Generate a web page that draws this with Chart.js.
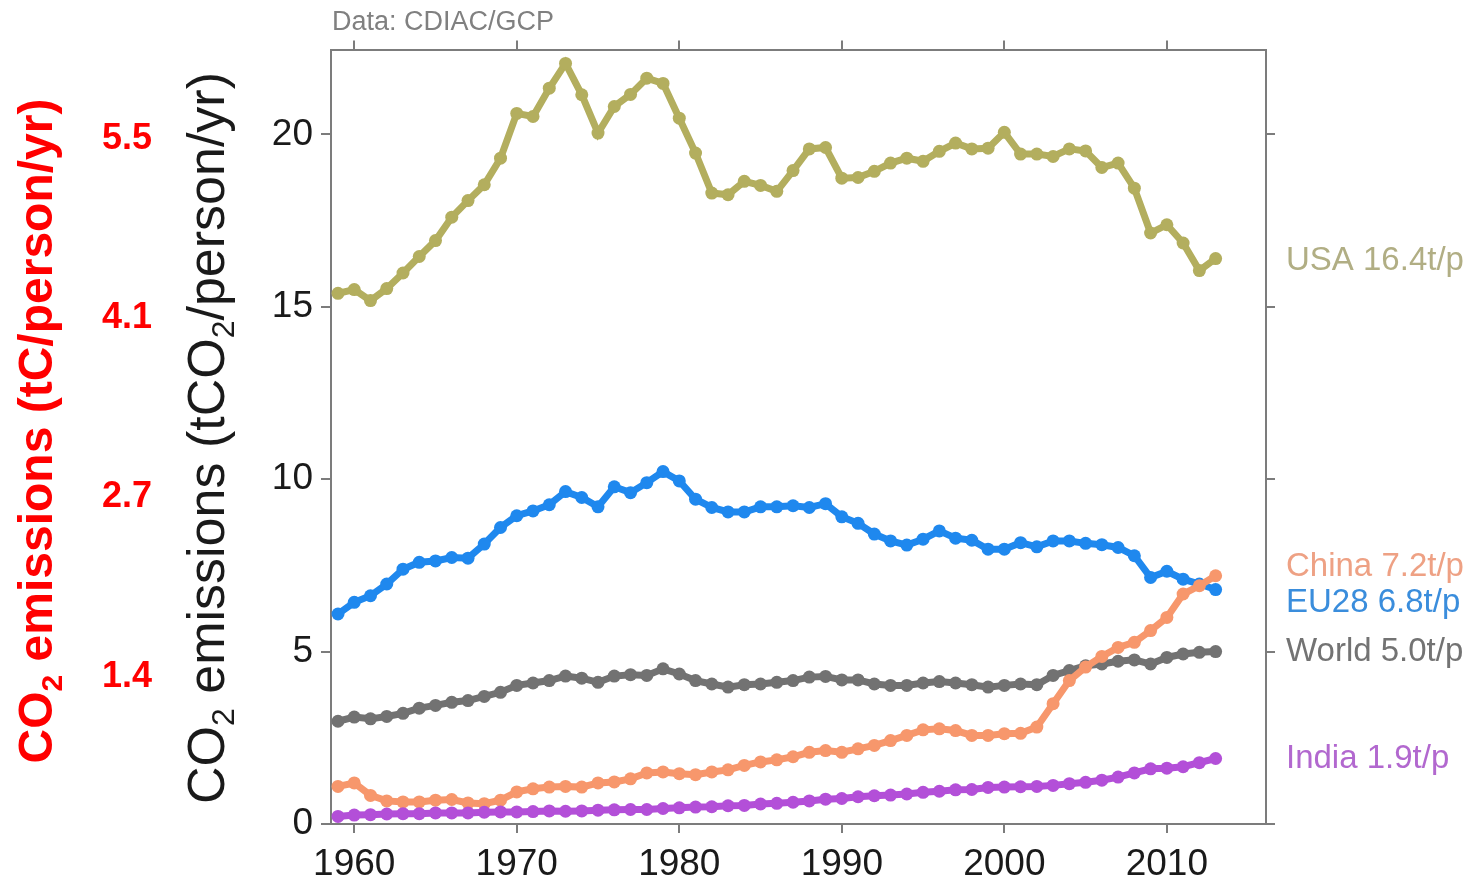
<!DOCTYPE html>
<html>
<head>
<meta charset="utf-8">
<script src="https://cdn.jsdelivr.net/npm/chart.js@4.4.1/dist/chart.umd.min.js"></script>
<style>
  html, body { margin: 0; padding: 0; background: #ffffff; }
  #wrap { width: 1474px; height: 885px; }
</style>
</head>
<body>
<div id="wrap"><canvas id="c" width="1474" height="885"></canvas></div>
<script>
// Per-capita fossil CO2 emissions, tCO2 per person per year
const years = [1959, 1960, 1961, 1962, 1963, 1964, 1965, 1966, 1967, 1968, 1969,
  1970, 1971, 1972, 1973, 1974, 1975, 1976, 1977, 1978, 1979,
  1980, 1981, 1982, 1983, 1984, 1985, 1986, 1987, 1988, 1989,
  1990, 1991, 1992, 1993, 1994, 1995, 1996, 1997, 1998, 1999,
  2000, 2001, 2002, 2003, 2004, 2005, 2006, 2007, 2008, 2009,
  2010, 2011, 2012, 2013];

const usa = [15.39, 15.50, 15.18, 15.53, 15.98, 16.46, 16.92, 17.60, 18.08, 18.54, 19.31,
  20.61, 20.52, 21.34, 22.06, 21.15, 20.04, 20.81, 21.16, 21.63, 21.48,
  20.47, 19.46, 18.30, 18.25, 18.64, 18.52, 18.35, 18.95, 19.58, 19.62,
  18.73, 18.75, 18.93, 19.17, 19.31, 19.22, 19.51, 19.75, 19.58, 19.60,
  20.06, 19.43, 19.43, 19.36, 19.58, 19.52, 19.04, 19.17, 18.44, 17.14,
  17.38, 16.85, 16.05, 16.4];

const eu28 = [6.09, 6.43, 6.62, 6.96, 7.39, 7.59, 7.63, 7.73, 7.71, 8.12, 8.60,
  8.94, 9.08, 9.26, 9.64, 9.47, 9.20, 9.78, 9.61, 9.90, 10.22,
  9.95, 9.42, 9.18, 9.05, 9.05, 9.20, 9.20, 9.23, 9.18, 9.29,
  8.91, 8.72, 8.41, 8.21, 8.09, 8.26, 8.50, 8.29, 8.23, 7.97,
  7.97, 8.16, 8.04, 8.21, 8.21, 8.14, 8.10, 8.02, 7.78, 7.15,
  7.33, 7.10, 6.96, 6.8];

const world = [2.98, 3.10, 3.05, 3.12, 3.21, 3.36, 3.44, 3.53, 3.58, 3.70, 3.82,
  4.02, 4.09, 4.16, 4.29, 4.23, 4.11, 4.29, 4.33, 4.31, 4.50,
  4.35, 4.16, 4.06, 3.97, 4.04, 4.06, 4.11, 4.16, 4.26, 4.28,
  4.18, 4.18, 4.06, 4.02, 4.02, 4.09, 4.13, 4.09, 4.04, 3.97,
  4.02, 4.06, 4.04, 4.31, 4.45, 4.59, 4.64, 4.72, 4.76, 4.64,
  4.83, 4.93, 4.98, 5.0];

const china = [1.09, 1.19, 0.83, 0.67, 0.64, 0.64, 0.69, 0.71, 0.61, 0.59, 0.69,
  0.93, 1.02, 1.07, 1.09, 1.07, 1.19, 1.22, 1.31, 1.48, 1.51,
  1.46, 1.43, 1.51, 1.57, 1.70, 1.80, 1.86, 1.95, 2.08, 2.13,
  2.08, 2.18, 2.28, 2.42, 2.57, 2.73, 2.76, 2.71, 2.57, 2.57,
  2.62, 2.63, 2.81, 3.49, 4.16, 4.55, 4.86, 5.12, 5.27, 5.61,
  5.99, 6.67, 6.91, 7.2];

const india = [0.22, 0.26, 0.27, 0.29, 0.30, 0.30, 0.32, 0.32, 0.32, 0.34, 0.35,
  0.35, 0.36, 0.38, 0.37, 0.38, 0.40, 0.41, 0.42, 0.42, 0.45,
  0.47, 0.49, 0.50, 0.53, 0.54, 0.58, 0.60, 0.63, 0.67, 0.72,
  0.74, 0.79, 0.82, 0.84, 0.87, 0.92, 0.95, 0.99, 1.00, 1.06,
  1.07, 1.08, 1.09, 1.12, 1.17, 1.21, 1.27, 1.36, 1.48, 1.60,
  1.62, 1.66, 1.78, 1.90];

const seriesNames = ['USA', 'EU28', 'World', 'China', 'India'];
const seriesValues = [usa, eu28, world, china, india];
const lineColors = ['#b3ae5e', '#1f88ee', '#727272', '#f7976c', '#b34fd8'];
const labelColors = ['#b1ae84', '#3a8ddc', '#737373', '#eea184', '#b268cf'];
const labelNudge = [2, 13, 0, -9, 0];

const xTickValues = [1960, 1970, 1980, 1990, 2000, 2010];
const yTickValues = [0, 5, 10, 15, 20];
const CO2_PER_C = 3.664;
const tcTickValues = [20, 15, 10, 5].map(v => v / CO2_PER_C);

const X_MIN = 1958.57, X_MAX = 2016.1;
const Y_MIN = 0, Y_MAX = 22.46;
const TC_MIN = 0.244, TC_MAX = 6.136;

const FONT = "'Liberation Sans', Arial, Helvetica, sans-serif";
const AXIS = '#7c7c7c';

// Rotated title with a subscript, centred on (cx, cy)
function drawRotated(ctx, parts, cx, cy, size, weight, color) {
  ctx.save();
  ctx.translate(cx, cy);
  ctx.rotate(-Math.PI / 2);
  const main = `${weight} ${size}px ${FONT}`;
  const sub = `${weight} ${Math.round(size * 0.62)}px ${FONT}`;
  let total = 0;
  parts.forEach(p => { ctx.font = p.sub ? sub : main; p.w = ctx.measureText(p.t).width; total += p.w; });
  let x = -total / 2;
  const base = size * 0.36;
  ctx.fillStyle = color;
  ctx.textAlign = 'left';
  ctx.textBaseline = 'alphabetic';
  parts.forEach(p => {
    ctx.font = p.sub ? sub : main;
    ctx.fillText(p.t, x, p.sub ? base + size * 0.2 : base);
    x += p.w;
  });
  ctx.restore();
}

const annotations = {
  id: 'annotations',
  afterDraw(chart) {
    const ctx = chart.ctx;
    const yScale = chart.scales.y;
    // end-of-line labels
    ctx.save();
    ctx.font = `33px ${FONT}`;
    ctx.textAlign = 'left';
    ctx.textBaseline = 'middle';
    seriesNames.forEach((name, i) => {
      const vals = seriesValues[i];
      const last = vals[vals.length - 1];
      ctx.fillStyle = labelColors[i];
      ctx.fillText(`${name} ${last.toFixed(1)}t/p`, chart.chartArea.right + 20,
        yScale.getPixelForValue(last) + labelNudge[i]);
    });
    // source note
    ctx.font = `27px ${FONT}`;
    ctx.fillStyle = '#808080';
    ctx.textBaseline = 'alphabetic';
    ctx.fillText('Data: CDIAC/GCP', chart.chartArea.left + 1, 30);
    ctx.restore();
    // axis titles
    drawRotated(ctx, [{ t: 'CO' }, { t: '2', sub: true }, { t: ' emissions (tCO' }, { t: '2', sub: true }, { t: '/person/yr)' }],
      205, 438, 52, 'normal', '#1a1a1a');
    drawRotated(ctx, [{ t: 'CO' }, { t: '2', sub: true }, { t: ' emissions (tC/person/yr)' }],
      35, 431, 48, 'bold', '#ff0000');
  }
};

const frameGrid = { drawOnChartArea: false, drawTicks: true, tickLength: 9, color: AXIS, lineWidth: 2 };
const frameBorder = { display: true, color: AXIS, width: 2 };

new Chart(document.getElementById('c'), {
  type: 'line',
  data: {
    datasets: seriesNames.map((name, i) => ({
      label: name,
      data: years.map((yr, k) => ({ x: yr, y: seriesValues[i][k] })),
      xAxisID: 'x',
      yAxisID: 'y',
      borderColor: lineColors[i],
      backgroundColor: lineColors[i],
      pointBackgroundColor: lineColors[i],
      pointBorderWidth: 0,
      pointRadius: 6.5,
      borderWidth: 7,
      tension: 0
    })).reverse()
  },
  options: {
    responsive: false,
    animation: false,
    devicePixelRatio: 1,
    layout: { padding: 0 },
    plugins: { legend: { display: false }, tooltip: { enabled: false } },
    scales: {
      x: {
        type: 'linear', axis: 'x', position: 'bottom', min: X_MIN, max: X_MAX,
        afterBuildTicks: s => { s.ticks = xTickValues.map(v => ({ value: v })); },
        afterFit: s => { s.height = 61; },
        grid: frameGrid, border: frameBorder,
        ticks: { autoSkip: false, maxRotation: 0, padding: 10, color: '#1a1a1a', font: { family: FONT, size: 37 }, callback: v => String(v) }
      },
      xTop: {
        type: 'linear', axis: 'x', position: 'top', min: X_MIN, max: X_MAX,
        afterBuildTicks: s => { s.ticks = xTickValues.map(v => ({ value: v })); },
        afterFit: s => { s.height = 48; },
        grid: frameGrid, border: frameBorder,
        ticks: { display: false }
      },
      y: {
        type: 'linear', axis: 'y', position: 'left', weight: 0, min: Y_MIN, max: Y_MAX,
        afterBuildTicks: s => { s.ticks = yTickValues.map(v => ({ value: v })); },
        afterFit: s => { s.width = 151; },
        grid: { ...frameGrid, tickLength: 10 }, border: frameBorder,
        ticks: { padding: 8, color: '#1a1a1a', font: { family: FONT, size: 37 }, callback: v => String(v) }
      },
      yRight: {
        type: 'linear', axis: 'y', position: 'right', min: Y_MIN, max: Y_MAX,
        afterBuildTicks: s => { s.ticks = yTickValues.map(v => ({ value: v })); },
        afterFit: s => { s.width = 208; },
        grid: frameGrid, border: frameBorder,
        ticks: { display: false }
      },
      yC: {
        type: 'linear', axis: 'y', position: 'left', weight: 1, min: TC_MIN, max: TC_MAX,
        afterBuildTicks: s => { s.ticks = tcTickValues.map(v => ({ value: v })); },
        afterFit: s => { s.width = 180; },
        grid: { display: false, drawTicks: false }, border: { display: false },
        ticks: { padding: 28, color: '#ff0000', font: { family: FONT, size: 36, weight: 'bold' }, callback: v => v.toFixed(1) }
      }
    }
  },
  plugins: [annotations]
});
</script>
</body>
</html>
